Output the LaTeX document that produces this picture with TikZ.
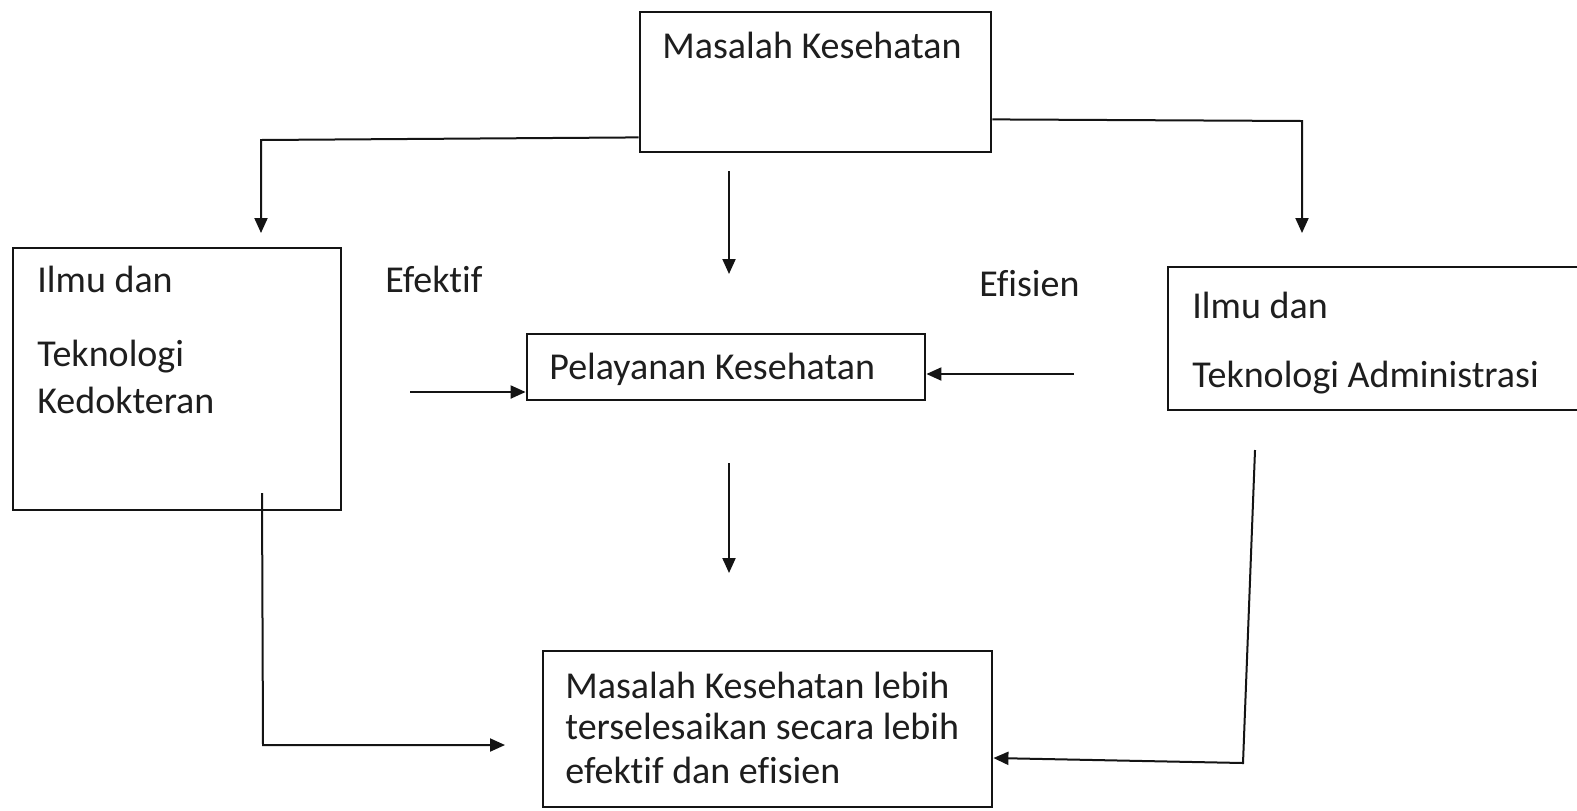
\documentclass[tikz,border=0pt]{standalone}
\usepackage{fontspec}
\setmainfont[Ligatures=NoCommon]{Carlito}
\usetikzlibrary{arrows.meta,positioning,calc}
\definecolor{Garis}{RGB}{20,20,20}
\definecolor{Teks}{RGB}{30,30,30}
\tikzset{
  kotak/.style={draw=Garis, line width=1.4pt, fill=white, inner sep=0pt},
  teks/.style={text=Teks, font=\fontsize{19}{23}\selectfont, inner sep=0pt, anchor=base west},
  panah/.style={-{Triangle[length=7.5pt, width=6.5pt]}, line width=1pt, Garis},
}

\begin{document}
\begin{tikzpicture}[x=0.5pt, y=0.5pt]
  \useasboundingbox (0,0) rectangle (1577,-810);
  \clip (0,0) rectangle (1577,-810);
  \fill[white] (0,0) rectangle (1577,-810);

  % ---- kotak ----
  \node[kotak, minimum width=175.5pt, minimum height=70pt] (mk) at (815.5,-82) {};
  \node[kotak, minimum width=164pt, minimum height=131pt] (ik) at (177,-379) {};
  \node[kotak, minimum width=226pt, minimum height=71.5pt] (ia) at (1394,-338.5) {};
  \node[kotak, minimum width=199pt, minimum height=33pt] (pk) at (726,-367) {};
  \node[kotak, minimum width=224.5pt, minimum height=78pt] (hb) at (767.5,-729) {};

  % ---- teks ----
  \node[teks] (tMasalah) at (662,-58) {Masalah Kesehatan};
  \node[teks] (tIlmuKiri) at (37,-292) {Ilmu dan};
  \node[teks] (tTekKiri) at (37,-366) {Teknologi};
  \node[teks] (tKedokteran) at (37,-413) {Kedokteran};
  \node[teks] (tEfektif) at (385,-292) {Efektif};
  \node[teks] (tEfisien) at (979,-296) {Efisien};
  \node[teks] (tIlmuKanan) at (1192,-318) {Ilmu dan};
  \node[teks] (tTekKanan) at (1192,-387) {Teknologi Administrasi};
  \node[teks] (tPelayanan) at (549,-379) {Pelayanan Kesehatan};
  \node[teks] (tHasil1) at (565,-698) {Masalah Kesehatan lebih};
  \node[teks] (tHasil2) at (565,-739) {terselesaikan secara lebih};
  \node[teks] (tHasil3) at (565,-783) {efektif dan efisien};

  % ---- titik bebas ----
  \coordinate (kiriA) at (261,-140);
  \coordinate (kiriB) at (261,-233);
  \coordinate (kananA) at (1302,-121);
  \coordinate (kananB) at (1302,-233);
  \coordinate (tengahA) at (729,-171);
  \coordinate (tengahB) at (729,-274);
  \coordinate (efA) at (410,-392);
  \coordinate (esA) at (1074,-374);
  \coordinate (tengahC) at (729,-463);
  \coordinate (tengahD) at (729,-573);
  \coordinate (bawahA) at (262,-493);
  \coordinate (bawahB) at (263,-745);
  \coordinate (bawahC) at (505,-745);
  \coordinate (kbA) at (1255,-450);
  \coordinate (kbB) at (1243,-763);

  % ---- panah ----
  \draw[panah] ([yshift=8pt]mk.south west) -- (kiriA) -- (kiriB);
  \draw[panah] ([yshift=17pt]mk.south east) -- (kananA) -- (kananB);
  \draw[panah] (tengahA) -- (tengahB);
  \draw[panah] (efA) -- ([yshift=-12.5pt]pk.west);
  \draw[panah] (esA) -- ([yshift=-3.5pt]pk.east);
  \draw[panah] (tengahC) -- (tengahD);
  \draw[panah] (bawahA) -- (bawahB) -- (bawahC);
  \draw[panah] (kbA) -- (kbB) -- ([yshift=-14.5pt]hb.east);
\end{tikzpicture}
\end{document}
